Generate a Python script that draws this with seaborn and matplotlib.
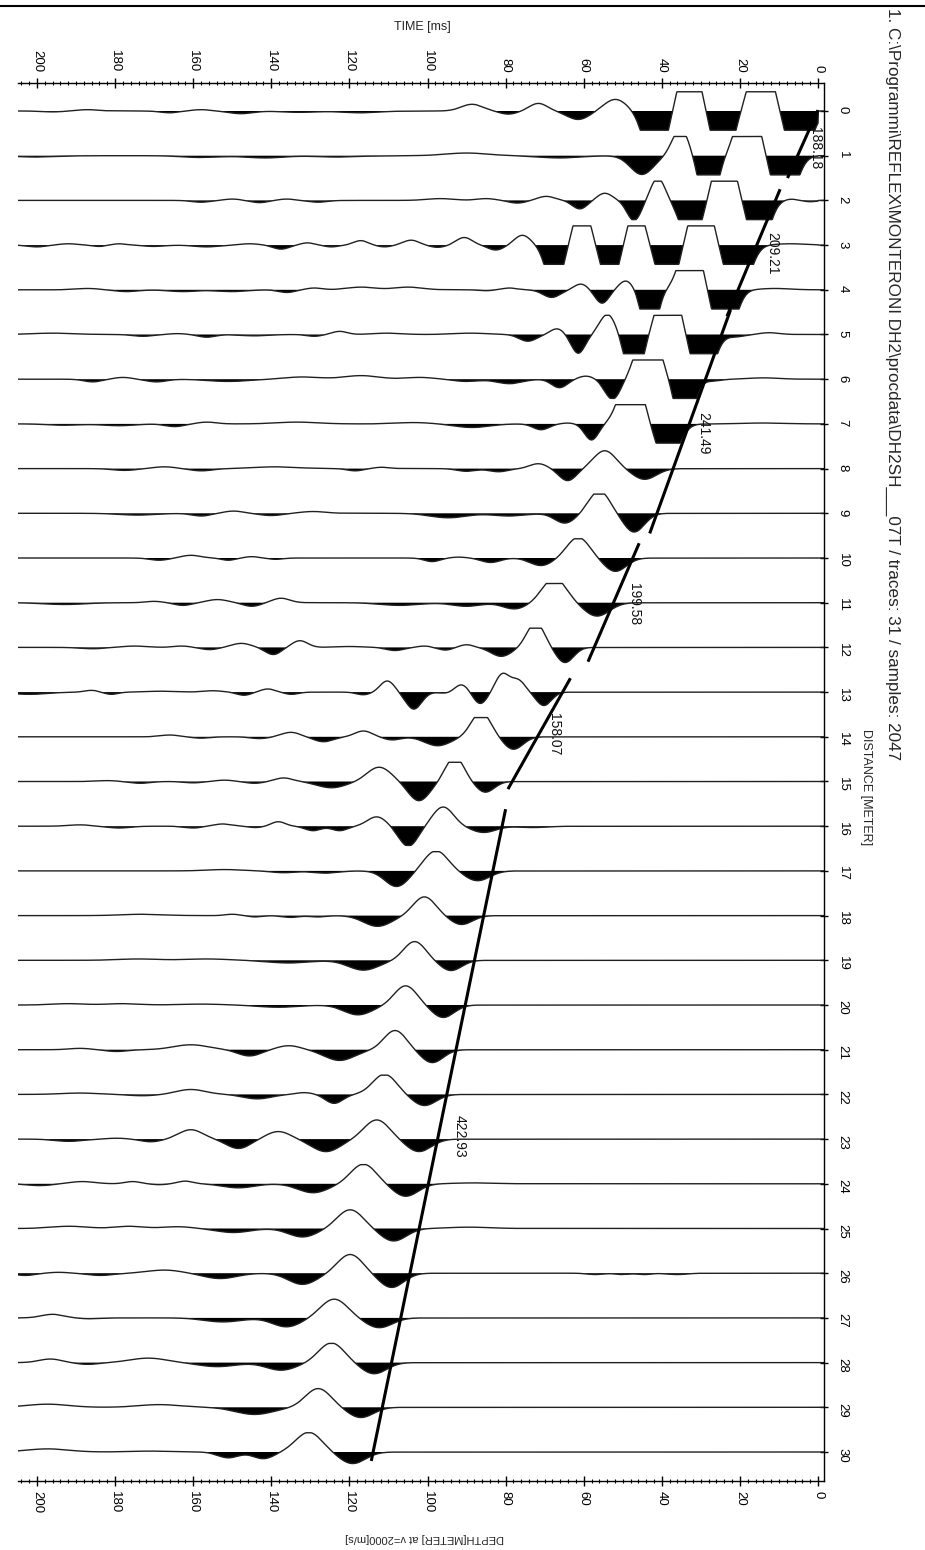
import numpy as np
import pandas as pd
import matplotlib
matplotlib.use("Agg")
import matplotlib.pyplot as plt
import seaborn as sns
from matplotlib.lines import Line2D
from matplotlib.ticker import MultipleLocator

# ---------------- data ----------------
traces = list(range(31))
time_ticks = [0, 20, 40, 60, 80, 100, 120, 140, 160, 180, 200]

# wavelet events read per trace: time [ms], amplitude (trace-spacing units, + = up / unfilled)
event_times = [
    [5, 14.5, 24.4, 32.9, 41.7, 51.9, 61.4, 71.6, 79.3, 88.6, 117, 132.7, 147.7, 158, 166, 187, 196],
    [8.7, 17.9, 28.1, 35.2, 45.1, 66.2, 90, 123, 141.6, 157.9, 200],
    [2, 7, 15.2, 24.0, 32.5, 41.0, 47.1, 54.6, 61.0, 69.6, 77, 85, 96.7, 128, 136, 143, 150, 158],
    [7, 20.6, 29.9, 38.6, 46.5, 53.3, 60.5, 67.5, 75.7, 82.5, 90.6, 97.4, 104.2, 111, 117.1, 124.6,
     130.7, 137.5, 145.6, 156.5, 170, 179, 184, 192, 200],
    [11, 24.0, 32.6, 43.1, 49.2, 55.3, 60.7, 68.2, 79, 85, 104.9, 117, 129, 136, 150, 162.6, 177, 187],
    [12.5, 21, 29.5, 38.3, 47.1, 53.9, 61.4, 66.8, 74.3, 89, 110.3, 122.5, 129, 144.3, 156.5, 164, 172.8, 196],
    [13.9, 27, 34.2, 43.5, 52.6, 59.4, 66.2, 79, 90, 102, 117, 132, 151, 169.4, 178, 185.7],
    [14, 38.6, 47.8, 58.0, 64, 70.9, 88.6, 103.5, 133.4, 156.5, 164.7, 179, 193],
    [44.4, 54.6, 64.1, 71.6, 81.8, 90, 111.7, 118.5, 138.8, 157.9, 167.4, 177.6],
    [47.1, 56, 64.8, 79, 94.7, 129.3, 140, 149.7, 157.9, 174.2],
    [51.9, 61.4, 70.9, 83.8, 92, 98.8, 138.8, 145, 151, 160.6, 168.7],
    [56.6, 67.5, 77.7, 90, 107, 137.5, 145, 153.8, 162.6, 170, 193],
    [64.8, 72.3, 81.1, 90, 95.4, 100.8, 108.3, 120, 132.7, 139.5, 147.7, 155.8, 163, 175, 185.7],
    [70.2, 76.8, 80.8, 86.5, 91.3, 95, 103.5, 110.3, 116.4, 134.8, 140.9, 147, 155, 168, 181, 186, 202],
    [78, 86.3, 97.4, 109, 116.4, 126.6, 135, 143, 158, 166],
    [85.2, 93, 102.2, 112.4, 124.6, 136.8, 144.3, 152, 160, 173.5, 182],
    [73, 85.6, 96, 104.9, 113, 122.5, 129.3, 138.2, 144, 152.4, 160, 179, 189],
    [87.2, 97.8, 107.9, 126, 136.8, 152],
    [91.3, 100.8, 112.8, 128, 135, 144, 150, 173],
    [94, 103.3, 116.4, 135.5, 156.5, 174],
    [96, 105.6, 117.8, 138.2, 158, 178, 192],
    [98.8, 108.3, 122.5, 135.5, 145.6, 160.6, 179.6, 189],
    [100.8, 111, 123.9, 131.5, 143.6, 160.6, 173, 189],
    [102.2, 113, 126, 138.2, 148.4, 160.6, 170.8, 179.6, 191.8],
    [88, 105.6, 116.4, 129.3, 148.4, 162, 168.7, 175.5, 188.4, 199.3],
    [89.3, 108.7, 119.8, 132, 149.7, 164, 176.2, 191.8],
    [36, 44.4, 50, 57, 109.2, 119.8, 132, 153.1, 167.4, 183.7, 194.5, 203],
    [112.4, 123.9, 136.1, 152.4, 186.4, 196],
    [113.7, 124.6, 137.5, 153.8, 171.5, 187, 196.6],
    [117.1, 128, 144.3, 168.7, 197.3],
    [119.2, 130.4, 142, 151, 171, 197.3],
]
event_amps = [
    [-1.3, 1.3, -1.3, 1.3, -1.3, 0.26, -0.19, 0.17, -0.07, 0.15, -0.04, -0.03, -0.06, 0.03, -0.04, 0.03, -0.02],
    [-1.3, 1.3, -1.3, 0.6, -0.42, -0.05, 0.06, -0.03, -0.05, -0.04, -0.03],
    [-0.03, 0.03, -1.2, 1.3, -1.0, 0.5, -0.45, 0.16, -0.19, 0.09, -0.06, 0.04, 0.04, -0.04, 0.03, -0.05, 0.03, -0.04],
    [0.03, -1.3, 1.3, -1.2, 0.9, -1.0, 0.9, -1.0, 0.22, -0.11, 0.17, -0.05, 0.11, -0.04, 0.1, -0.04,
     0.05, -0.09, 0.03, -0.04, -0.03, 0.03, -0.03, 0.03, -0.04],
    [0.03, -1.3, 1.3, -1.2, 0.2, -0.3, 0.13, -0.17, 0.04, -0.02, 0.06, 0.06, 0.04, -0.06, -0.04, -0.04, -0.04, 0.03],
    [0.04, -0.05, -1.3, 1.3, -1.2, 0.45, -0.42, 0.13, -0.15, 0.03, 0.03, 0.07, -0.04, -0.03, -0.06, 0.02, -0.04, 0.03],
    [0.03, -0.04, -1.3, 1.3, -0.45, 0.07, -0.19, -0.1, -0.05, 0.04, 0.08, 0.05, -0.05, -0.06, 0.04, -0.06],
    [0.02, -0.9, 1.3, -0.36, 0.02, -0.13, -0.08, 0.03, 0.04, 0.04, -0.06, -0.04, -0.03],
    [-0.24, 0.4, -0.27, 0.11, -0.07, -0.06, 0.03, -0.05, 0.04, -0.05, 0.04, -0.04],
    [-0.42, 0.5, -0.22, -0.06, -0.1, 0.04, -0.05, 0.05, -0.06, -0.04],
    [-0.3, 0.46, -0.17, -0.1, 0.02, -0.08, -0.03, 0.03, -0.05, 0.06, -0.05],
    [-0.3, 0.55, -0.14, -0.08, -0.06, 0.1, -0.08, 0.07, -0.06, 0.03, -0.04],
    [-0.34, 0.55, -0.2, 0.06, -0.06, 0.03, -0.07, 0.02, 0.15, -0.16, 0.09, -0.05, 0.03, 0.03, -0.03],
    [-0.3, 0.26, 0.4, -0.26, 0.17, -0.03, -0.38, 0.25, -0.06, -0.05, 0.07, -0.07, 0.03, 0.02, -0.05, 0.04, -0.05],
    [-0.28, 0.55, -0.2, -0.07, 0.13, -0.11, 0.1, -0.04, -0.03, 0.04],
    [-0.24, 0.55, -0.43, 0.32, -0.14, 0.08, -0.04, 0.03, -0.03, -0.04, 0.02],
    [-0.03, -0.14, 0.43, -0.45, 0.21, -0.1, -0.1, 0.1, -0.03, 0.05, -0.04, -0.04, 0.03],
    [-0.22, 0.45, -0.35, -0.05, -0.04, 0.03],
    [-0.2, 0.42, -0.24, -0.03, -0.04, -0.03, 0.03, 0.03],
    [-0.23, 0.42, -0.22, -0.06, 0.03, 0.03],
    [-0.28, 0.43, -0.22, -0.05, 0.02, 0.03, 0.03],
    [-0.29, 0.43, -0.24, 0.09, -0.14, 0.11, -0.04, 0.03],
    [-0.25, 0.45, -0.2, 0.04, -0.1, 0.11, -0.03, 0.03],
    [-0.28, 0.43, -0.28, 0.17, -0.21, 0.21, -0.06, 0.02, -0.05],
    [0.02, -0.28, 0.44, -0.2, -0.09, 0.06, -0.02, 0.05, 0.05, -0.04],
    [0.03, -0.28, 0.42, -0.19, -0.09, 0.04, 0.05, 0.05],
    [-0.03, -0.03, -0.03, -0.03, -0.32, 0.42, -0.25, -0.12, 0.07, -0.05, 0.02, -0.05],
    [-0.22, 0.42, -0.2, -0.09, -0.02, 0.08],
    [-0.25, 0.44, -0.17, -0.09, 0.1, -0.04, 0.08],
    [-0.23, 0.42, -0.16, 0.06, 0.07],
    [-0.26, 0.44, -0.15, -0.13, 0.02, 0.07],
]

# first-break pick segments (trace, time [ms]) and their velocity labels [m/s]
seg_trace_start = [-0.02, 1.75, 4.45, 9.67, 12.69, 15.62]
seg_time_start = [0.0, 9.7, 22.4, 45.8, 63.4, 80.0]
seg_trace_end = [1.5, 4.59, 9.45, 12.32, 15.17, 30.2]
seg_time_end = [7.8, 23.3, 43.1, 58.9, 79.4, 114.4]
velocity_labels = ["188.18", "209.21", "241.49", "199.58", "158.07", "422.93"]
label_time = [0.8, 11.8, 29.4, 47.1, 67.6, 91.9]
label_trace = [0.83, 3.18, 7.2, 11.03, 13.94, 22.93]

title = ("1. C:\\Programmi\\REFLEX\\MONTERONI DH2\\procdata\\DH2SH___07T"
         " / traces: 31 / samples: 2047")

CLIP = 0.43

# ---------------- build traces ----------------
tgrid = np.arange(-1.6, 205.0, 0.1)


def wiggle(times, amps):
    times = np.asarray(times, float)
    amps = np.asarray(amps, float)
    s = np.zeros_like(tgrid)
    for i, (tc, a) in enumerate(zip(times, amps)):
        gaps = []
        if i > 0:
            gaps.append(tc - times[i - 1])
        if i < len(times) - 1:
            gaps.append(times[i + 1] - tc)
        sig = np.clip(0.42 * min(gaps), 2.5, 7.5)
        s += a * np.exp(-((tgrid - tc) / sig) ** 2)
    s[tgrid < 0] = 0.0
    return np.clip(s, -CLIP, CLIP)


rows = []
for k in traces:
    s = wiggle(event_times[k], event_amps[k])
    rows.append(pd.DataFrame({"time": tgrid, "y": k - s, "trace": k}))
df = pd.concat(rows, ignore_index=True)

# ---------------- figure ----------------
sns.set_theme(style="white")
plt.rcParams["font.family"] = ["Liberation Sans", "DejaVu Sans"]

W, H = 925, 1550
fig = plt.figure(figsize=(W / 100, H / 100), dpi=100)
fig.patch.set_facecolor("white")

x_left, x_right, y_top, y_bot = 18, 824, 83, 1481
ax = fig.add_axes([x_left / W, 1 - y_bot / H, (x_right - x_left) / W, (y_bot - y_top) / H])
px_per_ms = 3.905
t0_px = 818
tr0_px, tr_sp = 111, 44.7
ax.set_xlim((t0_px - x_left) / px_per_ms, (t0_px - x_right) / px_per_ms)
ax.set_ylim((y_bot - tr0_px) / tr_sp, (y_top - tr0_px) / tr_sp)

# variable-area fill
for k in traces:
    sub = df[df["trace"] == k]
    ax.fill_between(sub["time"].values, k, sub["y"].values, where=sub["y"].values > k,
                    interpolate=True, color="black", linewidth=0)

sns.lineplot(data=df, x="time", y="y", units="trace", estimator=None, sort=False,
             color="#202020", linewidth=1.0, ax=ax, legend=False)

# picks
for ts, tms, te, tme in zip(seg_trace_start, seg_time_start, seg_trace_end, seg_time_end):
    ax.plot([tms, tme], [ts, te], color="black", linewidth=2.2, solid_capstyle="butt")
for lab, lt, lk in zip(velocity_labels, label_time, label_trace):
    ax.text(lt, lk, lab, rotation=270, ha="center", va="center", fontsize=10, color="#111111")

ax.set_xlabel("")
ax.set_ylabel("")

# axes styling
ax.set_xticks(time_ticks)
ax.set_xticklabels([str(v) for v in time_ticks])
ax.xaxis.set_minor_locator(MultipleLocator(2))
ax.tick_params(axis="x", which="both", top=True, bottom=True, labeltop=True, labelbottom=True,
               direction="inout", colors="black")
ax.tick_params(axis="x", which="major", length=7, width=1, labelsize=9.5, pad=4, labelrotation=270)
ax.tick_params(axis="x", which="minor", length=3.5, width=0.8)

ax.set_yticks(traces)
ax.set_yticklabels([str(v) for v in traces])
ax.yaxis.tick_right()
ax.tick_params(axis="y", which="major", right=True, left=False, labelright=True, labelleft=False,
               direction="inout", length=6, width=1, labelsize=9.5, pad=6, labelrotation=270,
               colors="black")

for side in ["top", "bottom", "right"]:
    ax.spines[side].set_visible(True)
    ax.spines[side].set_color("black")
    ax.spines[side].set_linewidth(1.0)
ax.spines["left"].set_visible(False)

# figure texts
fig.text(893 / W, 1 - 8 / H, title, rotation=270, ha="center", va="top", fontsize=12.3)
fig.text(866 / W, 1 - 787 / H, "DISTANCE [METER]", rotation=270, ha="center", va="center", fontsize=9)
fig.text(422 / W, 1 - 27 / H, "TIME [ms]", ha="center", va="center", fontsize=9)
fig.text(425 / W, 1 - 1538 / H, "DEPTH[METER] at v=2000[m/s]", rotation=180,
         ha="center", va="center", fontsize=8)
fig.add_artist(Line2D([0, 1], [1 - 6 / H, 1 - 6 / H], transform=fig.transFigure,
                      color="black", linewidth=1.5))

fig.savefig("out.png", dpi=100, facecolor="white")
